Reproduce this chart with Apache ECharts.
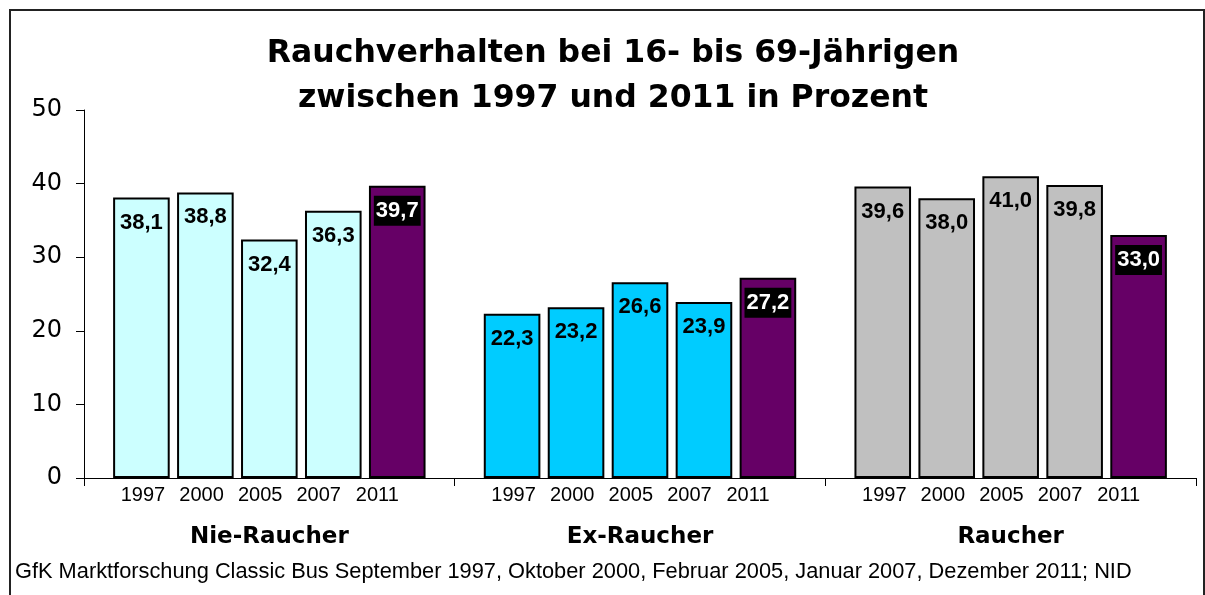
<!DOCTYPE html>
<html>
<head>
<meta charset="utf-8">
<script src="https://cdn.jsdelivr.net/npm/echarts@6/dist/echarts.min.js"></script>
<style>
html, body { margin: 0; padding: 0; background: #fff; }
#chart { width: 1205px; height: 595px; }
</style>
</head>
<body>
<div id="chart"></div>
<script>
// data
const groups = ['Nie-Raucher', 'Ex-Raucher', 'Raucher'];
const years = ['1997', '2000', '2005', '2007', '2011'];
const v1997 = [38.1, 22.3, 39.6];
const v2000 = [38.8, 23.2, 38.0];
const v2005 = [32.4, 26.6, 41.0];
const v2007 = [36.3, 23.9, 39.8];
const v2011 = [39.7, 27.2, 33.0];
const yTicks = [0, 10, 20, 30, 40, 50];

const valuesByYear = [v1997, v2000, v2005, v2007, v2011];
const groupColors = ['#CCFFFF', '#00CCFF', '#C0C0C0'];
const highlight = '#660066';

const chart = echarts.init(document.getElementById('chart'));

function fmt(v) {
	return v.toFixed(1).replace('.', ',');
}

const series = valuesByYear.map((vals, i) => {
	const last = i === years.length - 1;
	return {
		name: years[i],
		type: 'bar',
		barWidth: 56.6,
		barGap: '13%',
		data: vals.map((v, g) => ({
			value: v,
			itemStyle: { color: last ? highlight : groupColors[g] }
		})),
		itemStyle: {
			borderColor: '#000',
			borderWidth: 2
		},
		label: {
			show: true,
			position: 'insideTop',
			distance: last ? 10 : 12,
			formatter: (p) => fmt(p.value),
			fontFamily: 'Liberation Sans',
			fontWeight: 'bold',
			fontSize: 22,
			lineHeight: 26,
			color: last ? '#fff' : '#000',
			backgroundColor: last ? '#000' : 'transparent',
			padding: last ? [2, 2, 2, 2] : 0
		},
		emphasis: { disabled: true }
	};
});

chart.setOption({
	animation: false,
	title: {
		text: 'Rauchverhalten bei 16- bis 69-Jährigen\nzwischen 1997 und 2011 in Prozent',
		left: 613,
		top: 31,
		textAlign: 'center',
		padding: 0,
		textStyle: {
			fontFamily: 'DejaVu Sans',
			fontWeight: 'bold',
			fontSize: 31.5,
			lineHeight: 45,
			color: '#000'
		}
	},
	graphic: [
		{
			type: 'rect',
			shape: { x: 10, y: 10, width: 1194, height: 700 },
			style: { fill: 'none', stroke: '#222', lineWidth: 2 },
			silent: true
		},
		{
			type: 'text',
			x: 15,
			y: 572,
			style: {
				text: 'GfK Marktforschung Classic Bus September 1997, Oktober 2000, Februar 2005, Januar 2007, Dezember 2011; NID',
				fontFamily: 'Liberation Sans',
				fontSize: 21.8,
				fill: '#000',
				verticalAlign: 'middle'
			}
		}
	],
	grid: {
		left: 84,
		right: 9,
		top: 110,
		bottom: 117,
		containLabel: false,
		outerBoundsMode: 'none'
	},
	xAxis: [
		{
			type: 'category',
			data: groups,
			axisLine: { lineStyle: { color: '#000', width: 1 } },
			axisTick: { show: true, length: 8, lineStyle: { color: '#000' } },
			axisLabel: {
				margin: 6,
				formatter: () => years.map(y => '{y|' + y + '}').join('') + '{s|}',
				rich: {
					y: { width: 58.6, fontFamily: 'Liberation Sans', fontSize: 20, lineHeight: 23, color: '#000' },
					s: { width: 18.4, lineHeight: 23 }
				}
			},
			splitLine: { show: false }
		},
		{
			type: 'category',
			data: groups,
			position: 'bottom',
			axisLine: { show: false },
			axisTick: { show: false },
			axisLabel: {
				margin: 48,
				fontFamily: 'DejaVu Sans',
				fontWeight: 'bold',
				fontSize: 23,
				lineHeight: 23,
				color: '#000'
			},
			splitLine: { show: false }
		}
	],
	yAxis: {
		type: 'value',
		min: yTicks[0],
		max: yTicks[yTicks.length - 1],
		interval: 10,
		axisLine: { show: true, lineStyle: { color: '#000', width: 1 } },
		axisTick: { show: true, length: 8, lineStyle: { color: '#000' } },
		axisLabel: {
			margin: 22,
			fontFamily: 'DejaVu Sans',
			fontSize: 24,
			color: '#000'
		},
		splitLine: { show: false }
	},
	series: series
});
</script>
</body>
</html>
